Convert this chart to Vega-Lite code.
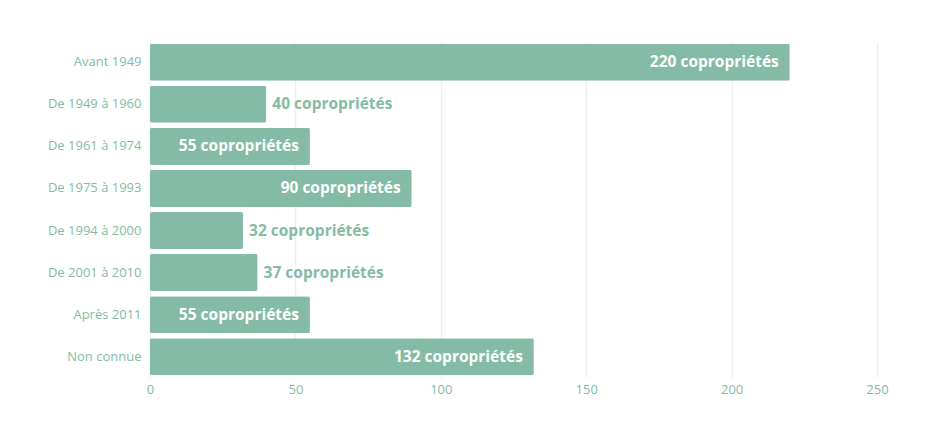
{
  "$schema": "https://vega.github.io/schema/vega-lite/v6.json",
  "autosize": "none",
  "width": 727,
  "height": 335,
  "padding": {"left": 150, "top": 42, "right": 58, "bottom": 60},
  "background": "white",
  "config": {"view": {"stroke": null}},
  "data": {"values": [
    {"periode": "Avant 1949", "value": 220, "label": "220 copropriétés"},
    {"periode": "De 1949 à 1960", "value": 40, "label": "40 copropriétés"},
    {"periode": "De 1961 à 1974", "value": 55, "label": "55 copropriétés"},
    {"periode": "De 1975 à 1993", "value": 90, "label": "90 copropriétés"},
    {"periode": "De 1994 à 2000", "value": 32, "label": "32 copropriétés"},
    {"periode": "De 2001 à 2010", "value": 37, "label": "37 copropriétés"},
    {"periode": "Après 2011", "value": 55, "label": "55 copropriétés"},
    {"periode": "Non connue", "value": 132, "label": "132 copropriétés"}
  ]},
  "encoding": {
    "y": {"field": "periode", "type": "nominal", "sort": null,
      "scale": {"paddingInner": 0.12, "paddingOuter": 0.04},
      "axis": {"title": null, "domain": false, "ticks": false, "labelPadding": 9,
        "labelFont": "Open Sans", "labelFontSize": 13, "labelColor": "#84bba6"}},
    "x": {"field": "value", "type": "quantitative",
      "scale": {"domain": [0, 250]},
      "axis": {"title": null, "domain": false, "ticks": false, "tickCount": 5, "labelPadding": 6, "labelFlush": false,
        "labelFont": "Open Sans", "labelFontSize": 13, "labelColor": "#84bba6",
        "grid": true, "gridColor": "#eef0ef", "gridWidth": 1.5}}
  },
  "layer": [
    {"mark": {"type": "bar", "color": "#84bba6", "cornerRadius": 2}},
    {"transform": [{"filter": "datum.value > 50"}],
     "mark": {"type": "text", "align": "right", "dx": -11, "font": "Open Sans", "fontWeight": "bold", "fontSize": 15.5, "color": "white"},
     "encoding": {"text": {"field": "label"}}},
    {"transform": [{"filter": "datum.value <= 50"}],
     "mark": {"type": "text", "align": "left", "dx": 6, "font": "Open Sans", "fontWeight": "bold", "fontSize": 15.5, "color": "#84bba6"},
     "encoding": {"text": {"field": "label"}}}
  ]
}
